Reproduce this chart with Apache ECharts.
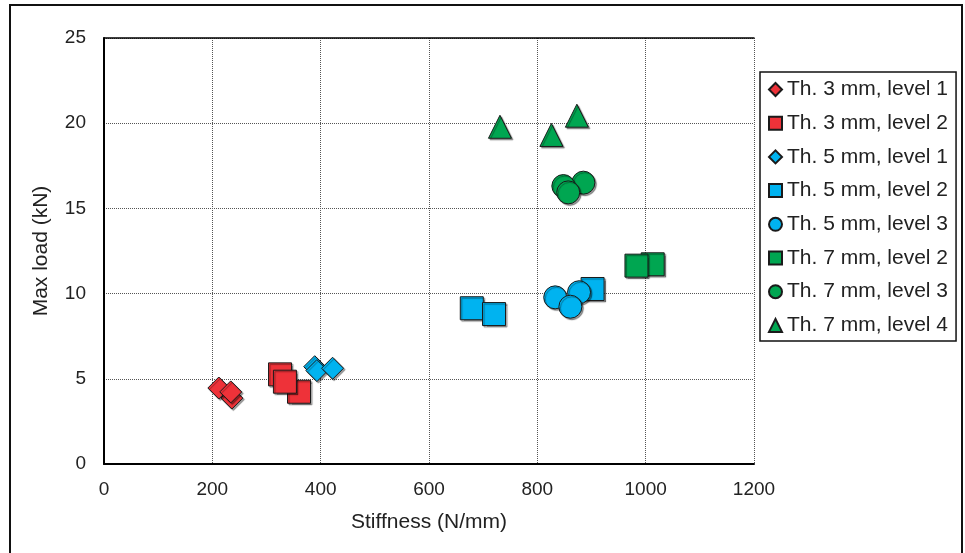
<!DOCTYPE html>
<html>
<head>
<meta charset="utf-8">
<script src="https://cdn.jsdelivr.net/npm/echarts@6/dist/echarts.min.js"></script>
<style>
  html, body { margin: 0; padding: 0; background: #fff; }
  #chart { width: 965px; height: 553px; }
</style>
</head>
<body>
<div id="chart"></div>
<script>
// Stiffness (N/mm) vs. max load (kN) per thickness / level group
const seriesNames = [
  'Th. 3 mm, level 1', 'Th. 3 mm, level 2',
  'Th. 5 mm, level 1', 'Th. 5 mm, level 2', 'Th. 5 mm, level 3',
  'Th. 7 mm, level 2', 'Th. 7 mm, level 3', 'Th. 7 mm, level 4'
];
const th3Level1 = [[236, 3.87], [212, 4.46], [234, 4.23]];
const th3Level2 = [[325, 5.26], [360, 4.24], [334, 4.83]];
const th5Level1 = [[389, 5.71], [393, 5.48], [422, 5.62]];
const th5Level2 = [[679, 9.14], [720, 8.80], [902, 10.27]];
const th5Level3 = [[833, 9.78], [877, 10.08], [861, 9.23]];
const th7Level2 = [[1013, 11.72], [983, 11.64]];
const th7Level3 = [[885, 16.51], [848, 16.31], [857, 15.94]];
const th7Level4 = [[731, 19.79], [826, 19.31], [873, 20.44]];

const xTicks = [0, 200, 400, 600, 800, 1000, 1200];
const yTicks = [0, 5, 10, 15, 20, 25];

const RED = '#EE3239', BLUE = '#00B3F0', GREEN = '#00A651';

const groups = [
  { data: th3Level1, symbol: 'diamond',  size: 22, color: RED },
  { data: th3Level2, symbol: 'rect',     size: 23, color: RED },
  { data: th5Level1, symbol: 'diamond',  size: 22, color: BLUE },
  { data: th5Level2, symbol: 'rect',     size: 23, color: BLUE },
  { data: th5Level3, symbol: 'circle',   size: 23, color: BLUE },
  { data: th7Level2, symbol: 'rect',     size: 23, color: GREEN },
  { data: th7Level3, symbol: 'circle',   size: 23, color: GREEN },
  { data: th7Level4, symbol: 'triangle', size: 23, color: GREEN }
];

const FONT = 'Liberation Sans, Arial, sans-serif';
const plain = v => String(v);

const chart = echarts.init(document.getElementById('chart'), null, { renderer: 'canvas' });

chart.setOption({
  backgroundColor: '#fff',
  animation: false,
  graphic: [{
    type: 'rect',
    shape: { x: 10, y: 5, width: 952, height: 560 },
    style: { fill: 'none', stroke: '#111', lineWidth: 2 },
    silent: true,
    z: -10
  }],
  grid: { left: 104, right: 211, top: 38, bottom: 89, containLabel: false },
  xAxis: [{
    type: 'value',
    min: xTicks[0], max: xTicks[xTicks.length - 1], interval: 200,
    name: 'Stiffness (N/mm)',
    nameLocation: 'middle', nameGap: 48,
    nameTextStyle: { fontFamily: FONT, fontSize: 21, color: '#222' },
    axisLine: { show: true, onZero: false, lineStyle: { color: '#000', width: 2 } },
    axisTick: { show: false },
    axisLabel: { fontFamily: FONT, fontSize: 19, color: '#222', margin: 16, formatter: plain },
    splitLine: { show: true, lineStyle: { type: 'dotted', color: '#555', width: 1 } }
  }, {
    type: 'value', position: 'top',
    min: xTicks[0], max: xTicks[xTicks.length - 1], interval: 200,
    axisLine: { show: true, onZero: false, lineStyle: { color: '#000', width: 1.5 } },
    axisTick: { show: false }, axisLabel: { show: false }, splitLine: { show: false }
  }],
  yAxis: {
    type: 'value',
    min: yTicks[0], max: yTicks[yTicks.length - 1], interval: 5,
    name: 'Max load (kN)',
    nameLocation: 'middle', nameGap: 52,
    nameTextStyle: { fontFamily: FONT, fontSize: 21, color: '#222' },
    axisLine: { show: true, onZero: false, lineStyle: { color: '#000', width: 2 } },
    axisTick: { show: false },
    axisLabel: { fontFamily: FONT, fontSize: 19, color: '#222', margin: 18, formatter: plain },
    splitLine: { show: true, lineStyle: { type: 'dotted', color: '#555', width: 1 } }
  },
  legend: {
    orient: 'vertical',
    left: 760, top: 72,
    padding: [7, 8, 5, 8],
    itemGap: 12.7,
    itemWidth: 13, itemHeight: 13,
    borderColor: '#111', borderWidth: 1.5,
    backgroundColor: '#fff',
    textStyle: { fontFamily: FONT, fontSize: 21, color: '#222', lineHeight: 20 },
    data: seriesNames
  },
  series: groups.map((g, i) => ({
    name: seriesNames[i],
    type: 'scatter',
    xAxisIndex: 0,
    symbol: g.symbol,
    symbolSize: g.size,
    data: g.data,
    itemStyle: {
      color: g.color, opacity: 1,
      borderColor: '#1a1a1a', borderWidth: 1,
      shadowColor: 'rgba(0,0,0,0.4)', shadowBlur: 1, shadowOffsetX: 1.5, shadowOffsetY: 1.5
    },
    emphasis: { disabled: true }
  }))
});
</script>
</body>
</html>
